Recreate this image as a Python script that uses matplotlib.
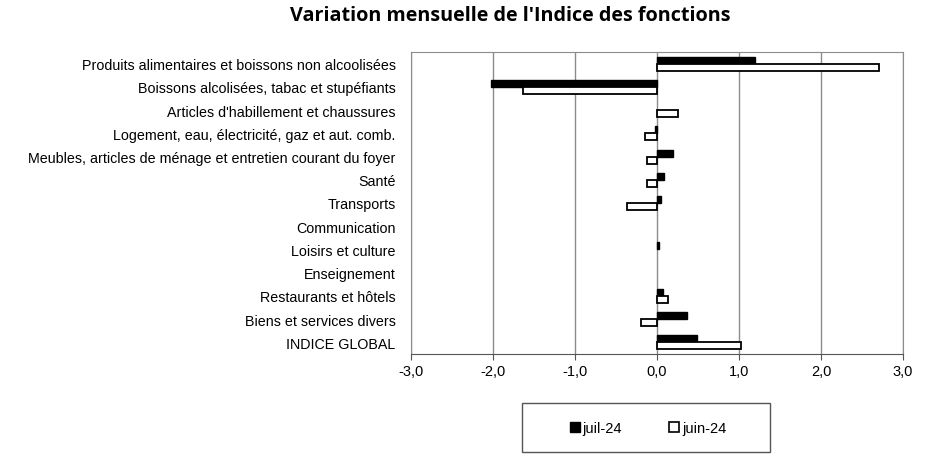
import matplotlib
matplotlib.use("Agg")
import matplotlib.pyplot as plt
from matplotlib.patches import Patch, Rectangle
import numpy as np

categories = [
    "Produits alimentaires et boissons non alcoolisées",
    "Boissons alcolisées, tabac et stupéfiants",
    "Articles d'habillement et chaussures",
    "Logement, eau, électricité, gaz et aut. comb.",
    "Meubles, articles de ménage et entretien courant du foyer",
    "Santé",
    "Transports",
    "Communication",
    "Loisirs et culture",
    "Enseignement",
    "Restaurants et hôtels",
    "Biens et services divers",
    "INDICE GLOBAL",
]
juil_24 = [1.2, -2.02, 0.0, -0.02, 0.19, 0.09, 0.05, 0.0, 0.02, 0.0, 0.07, 0.36, 0.49]
juin_24 = [2.71, -1.64, 0.26, -0.15, -0.12, -0.12, -0.36, 0.0, 0.0, 0.0, 0.13, -0.2, 1.02]
series_labels = ["juil-24", "juin-24"]
x_ticks = [-3, -2, -1, 0, 1, 2, 3]
x_tick_labels = ["-3,0", "-2,0", "-1,0", "0,0", "1,0", "2,0", "3,0"]
title = "Variation mensuelle de l'Indice des fonctions"

plt.rcParams['font.family'] = ['Liberation Sans', 'DejaVu Sans']

fig = plt.figure(figsize=(9.4, 4.64), dpi=100)
ax = fig.add_axes([411/940, 1-355/464, 492/940, 302/464])

y = np.arange(len(categories))
h = 0.3
lw_juil = [1.0 if v != 0 else 0.0 for v in juil_24]
lw_juin = [1.3 if v != 0 else 0.0 for v in juin_24]
ax.barh(y - h/2, juil_24, height=h, color='black', edgecolor='black', linewidth=lw_juil, zorder=3)
ax.barh(y + h/2, juin_24, height=h, color='white', edgecolor='black', linewidth=lw_juin, zorder=3)

ax.set_xlim(-3, 3)
ax.set_ylim(len(categories) - 0.5, -0.5)
ax.set_xticks(x_ticks)
ax.set_xticklabels(x_tick_labels, fontsize=10.5)
ax.set_yticks(y)
ax.set_yticklabels(categories, fontsize=10.3)
ax.tick_params(axis='y', length=0, pad=11)
ax.tick_params(axis='x', length=4, color='#555555', pad=3)
ax.grid(axis='x', color='#8c8c8c', linewidth=1.0, zorder=0)
for s in ['top', 'right', 'left']:
    ax.spines[s].set_color('#8c8c8c')
ax.spines['bottom'].set_color('#555555')

fig.text(0.543, 1-16/464, title, ha='center', va='center', fontsize=14.2,
         fontweight='bold', family=['Open Sans', 'DejaVu Sans'])

# legend box
fig.add_artist(Rectangle((522/940, 1-453/464), 248/940, 49/464, transform=fig.transFigure,
                         facecolor='white', edgecolor='#555555', linewidth=1.0))
handles = [Patch(facecolor='black', edgecolor='black'),
           Patch(facecolor='white', edgecolor='black', linewidth=1.2)]
leg = fig.legend(handles, series_labels, loc='center', bbox_to_anchor=(648/940, 1-429/464),
                 ncol=2, fontsize=10.5, frameon=False,
                 handlelength=0.7, handleheight=0.7, handletextpad=0.2, columnspacing=3.2,
                 borderpad=0, borderaxespad=0)

fig.savefig("out.png", dpi=100)
